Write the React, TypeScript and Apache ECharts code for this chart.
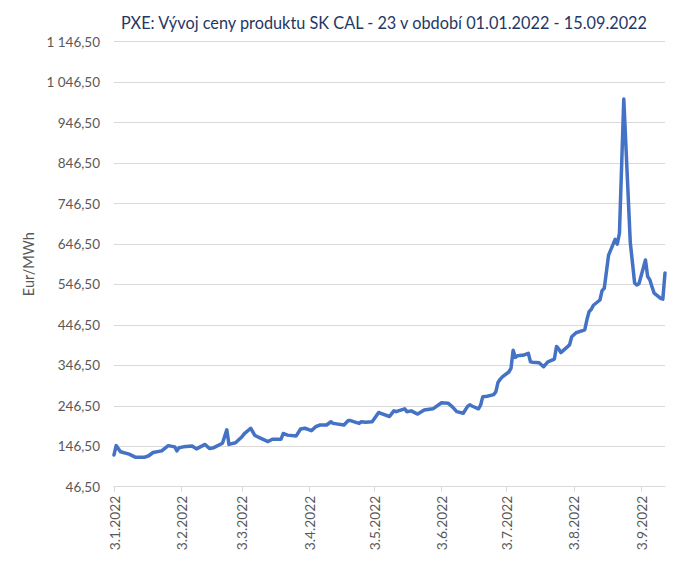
import React, { useEffect, useRef } from "react";
import * as echarts from "echarts";

const titleText = "PXE: Vývoj ceny produktu SK CAL - 23 v období 01.01.2022 - 15.09.2022";
const yAxisName = "Eur/MWh";

const dates = [
  "2022-01-03","2022-01-04","2022-01-06","2022-01-10","2022-01-13","2022-01-17","2022-01-19","2022-01-21","2022-01-25","2022-01-28","2022-01-31",
  "2022-02-01","2022-02-02","2022-02-04","2022-02-08","2022-02-10","2022-02-14","2022-02-16","2022-02-18","2022-02-22","2022-02-24","2022-02-25","2022-02-28",
  "2022-03-03","2022-03-04","2022-03-07","2022-03-09","2022-03-11","2022-03-15","2022-03-17","2022-03-21","2022-03-22","2022-03-24","2022-03-28","2022-03-30",
  "2022-04-01","2022-04-04","2022-04-06","2022-04-08","2022-04-11","2022-04-13","2022-04-14","2022-04-19","2022-04-21","2022-04-22","2022-04-26","2022-04-27","2022-04-29",
  "2022-05-02","2022-05-05","2022-05-06","2022-05-10","2022-05-12","2022-05-13","2022-05-17","2022-05-18","2022-05-20","2022-05-23","2022-05-26","2022-05-30",
  "2022-06-03","2022-06-06","2022-06-08","2022-06-10","2022-06-13","2022-06-15","2022-06-16","2022-06-17","2022-06-20","2022-06-21","2022-06-22","2022-06-24","2022-06-27","2022-06-28","2022-06-29","2022-06-30",
  "2022-07-01","2022-07-04","2022-07-05","2022-07-06","2022-07-07","2022-07-08","2022-07-11","2022-07-12","2022-07-13","2022-07-14","2022-07-15","2022-07-18","2022-07-20","2022-07-22","2022-07-25","2022-07-26","2022-07-27","2022-07-28",
  "2022-08-01","2022-08-02","2022-08-04","2022-08-08","2022-08-09","2022-08-10","2022-08-11","2022-08-12","2022-08-15","2022-08-16","2022-08-17","2022-08-18","2022-08-19","2022-08-22","2022-08-23","2022-08-24","2022-08-26","2022-08-29","2022-08-30","2022-08-31",
  "2022-09-01","2022-09-02","2022-09-05","2022-09-06","2022-09-07","2022-09-08","2022-09-09","2022-09-12","2022-09-13","2022-09-14",
];

const prices = [
  125, 148, 133, 127, 119, 119, 123, 131, 135, 148, 145,
  135, 143, 145, 147, 140, 151, 141, 143, 154, 187, 151, 155,
  170, 177, 191, 173, 168, 158, 164, 164, 178, 174, 172, 189,
  191, 185, 195, 199, 199, 207, 203, 199, 210, 210, 203, 207, 206,
  207, 230, 228, 220, 234, 232, 239, 232, 234, 226, 236, 239,
  254, 253, 244, 232, 228, 245, 249, 246, 239, 248, 269, 270, 274, 281, 304, 312,
  318, 330, 339, 384, 366, 370, 372, 374, 376, 355, 354, 353, 343, 355, 362, 393, 387, 378,
  397, 417, 427, 434, 459, 479, 485, 495, 508, 531, 537, 578, 619, 658, 646, 673, 1005, 650, 600, 550,
  545, 548, 607, 566, 558, 541, 525, 512, 510, 575,
];

// x tick label dates (3rd of each month)
const tickDates = [
  "2022-01-03","2022-02-03","2022-03-03","2022-04-03","2022-05-03",
  "2022-06-03","2022-07-03","2022-08-03","2022-09-03",
];
const yMin = 46.5;
const yMax = 1146.5;
const yStep = 100;

function fmtNum(v: number): string {
  const s = v.toFixed(2);
  const [i, d] = s.split(".");
  const grouped = i.replace(/\B(?=(\d{3})+(?!\d))/g, " ");
  return grouped + "," + d;
}

function parseLocal(s: string): number {
  const [y, m, d] = s.split("-").map(Number);
  return new Date(y, m - 1, d).getTime();
}

export default function App() {
  const ref = useRef<HTMLDivElement>(null);

  useEffect(() => {
    document.body.style.margin = "0";
    if (!ref.current) return;
    const chart = echarts.init(ref.current, undefined, { renderer: "svg" });
    const tickValues = tickDates.map(parseLocal);
    const data = dates.map((d, i) => [parseLocal(d), prices[i]]);
    const font = "Lato, 'Noto Sans', sans-serif";
    chart.setOption({
      animation: false,
      backgroundColor: "#ffffff",
      graphic: [
        {
          type: "text",
          x: 384,
          y: 22,
          style: {
            text: titleText,
            fill: "#1F3864",
            font: `16.3px ${font}`,
            textAlign: "center",
            textVerticalAlign: "middle",
          },
        },
      ],
      grid: { left: 114, right: 12, top: 41.7, bottom: 74.3, containLabel: false },
      xAxis: {
        type: "value",
        min: parseLocal(dates[0]),
        max: parseLocal(dates[dates.length - 1]),
        axisLine: { show: true, lineStyle: { color: "#d9d9d9", width: 1 } },
        axisTick: {
          show: true,
          length: 5,
          customValues: tickValues,
          lineStyle: { color: "#d9d9d9" },
        },
        axisLabel: {
          customValues: tickValues,
          rotate: 90,
          margin: 9,
          color: "#595959",
          fontFamily: font,
          fontSize: 13.8,
          formatter: (v: number) => {
            const d = new Date(v);
            return `${d.getDate()}.${d.getMonth() + 1}.${d.getFullYear()}`;
          },
        },
        splitLine: { show: false },
      },
      yAxis: {
        type: "value",
        min: yMin,
        max: yMax,
        interval: yStep,
        name: yAxisName,
        nameLocation: "middle",
        nameGap: 72,
        nameTextStyle: { color: "#595959", fontFamily: font, fontSize: 14.5 },
        axisLine: { show: false },
        axisTick: { show: false },
        axisLabel: {
          margin: 14,
          color: "#595959",
          fontFamily: font,
          fontSize: 13.5,
          formatter: (v: number) => fmtNum(v),
        },
        splitLine: { show: true, lineStyle: { color: "#d9d9d9", width: 1 } },
      },
      series: [
        {
          type: "line",
          data,
          showSymbol: false,
          symbol: "none",
          smooth: false,
          lineStyle: { color: "#4472C4", width: 3.5, join: "round", cap: "round" },
        },
      ],
    });
    return () => chart.dispose();
  }, []);

  return <div ref={ref} style={{ width: 677, height: 561 }} />;
}
